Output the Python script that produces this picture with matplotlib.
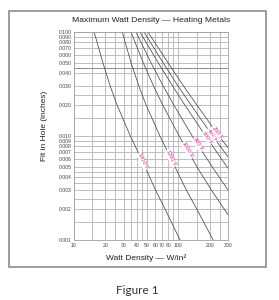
import numpy as np
import matplotlib
matplotlib.use('Agg')
import matplotlib.pyplot as plt
from matplotlib.patches import Rectangle

plt.rcParams['font.family'] = ['Liberation Sans', 'DejaVu Sans']

# === Dados (W/in^2 x ajuste no furo em polegadas) ===
fit_1400 = [0.1, 0.05, 0.03, 0.02, 0.01, 0.005, 0.003, 0.002, 0.001]
w_1400 = [15.6, 19.0, 22.3, 25.8, 34.7, 48.3, 60.7, 74.5, 104]

fit_1200 = [0.1, 0.05, 0.03, 0.02, 0.01, 0.005, 0.003, 0.002, 0.001]
w_1200 = [29.0, 35.4, 42.0, 49.0, 66.7, 93.5, 120, 150, 216]

fit_1000 = [0.1, 0.05, 0.03, 0.02, 0.01, 0.005, 0.003, 0.00175]
w_1000 = [35.2, 46.4, 58.2, 70.7, 102, 152, 209, 300]

fit_800 = [0.1, 0.05, 0.03, 0.02, 0.01, 0.005, 0.00303]
w_800 = [39.3, 55.1, 72.0, 90.3, 136, 213, 300]

fit_600 = [0.1, 0.05, 0.03, 0.02, 0.01, 0.0049]
w_600 = [42.9, 64.7, 88.7, 115, 183, 300]

fit_400 = [0.1, 0.05, 0.03, 0.02, 0.01, 0.0063]
w_400 = [46.9, 72.1, 100, 132, 214, 300]

fit_200 = [0.1, 0.05, 0.03, 0.02, 0.01, 0.0077]
w_200 = [51.2, 80.4, 113, 150, 246, 300]

curvas = [(w_1400, fit_1400), (w_1200, fit_1200), (w_1000, fit_1000),
          (w_800, fit_800), (w_600, fit_600), (w_400, fit_400), (w_200, fit_200)]
rotulos = ['1400°F', '1200°F', '1000°F', '800°F', '600°F', '400°F', '200°F']
fit_rotulo = [0.0057, 0.0061, 0.0073, 0.0082, 0.0096, 0.0102, 0.0107]

x_ticks = [10, 20, 30, 40, 50, 60, 70, 80, 100, 200, 300]
x_grid_extra = [15, 25, 35, 45, 90, 150, 250]
y_ticks = [0.001, 0.002, 0.003, 0.004, 0.005, 0.006, 0.007, 0.008, 0.009, 0.010,
           0.020, 0.030, 0.040, 0.050, 0.060, 0.070, 0.080, 0.090, 0.100]
y_grid_extra = [0.0015, 0.0025, 0.0035, 0.0045, 0.015, 0.025]

# === Figura ===
fig = plt.figure(figsize=(2.79, 3.0), dpi=100)
ax = fig.add_axes([74/279, 60/300, 154/279, 208/300])
ax.set_xscale('log')
ax.set_yscale('log')
ax.set_xlim(10, 300)
ax.set_ylim(0.001, 0.1)

grid_cor = '#b3b3b3'
for x in x_ticks + x_grid_extra:
    ax.axvline(x, color=grid_cor, lw=0.6, zorder=1)
for y in y_ticks + y_grid_extra:
    ax.axhline(y, color=grid_cor, lw=0.6, zorder=1)
ax.axhline(0.045, color='#8a8a8a', lw=0.7, zorder=1)

for (w, f) in curvas:
    ax.plot(w, f, color='#4a4a4a', lw=0.55, zorder=2)

# rotulos ao longo das curvas
fig.canvas.draw()
for (w, f), txt, fr in zip(curvas, rotulos, fit_rotulo):
    lw_ = np.log10(w)[::-1]
    lf_ = np.log10(f)[::-1]
    xr = 10 ** np.interp(np.log10(fr), lf_, lw_)
    xa = 10 ** np.interp(np.log10(fr) - 0.05, lf_, lw_)
    xb = 10 ** np.interp(np.log10(fr) + 0.05, lf_, lw_)
    p1 = ax.transData.transform((xb, fr * 10 ** 0.05))
    p2 = ax.transData.transform((xa, fr * 10 ** -0.05))
    ang = np.degrees(np.arctan2(p2[1] - p1[1], p2[0] - p1[0]))
    ax.text(xr, fr, txt, color='#e8249a', fontsize=4.0, rotation=ang,
            rotation_mode='anchor', ha='center', va='center', zorder=3,
            bbox=dict(facecolor='white', edgecolor='none', pad=0.2))

ax.set_xticks(x_ticks)
ax.set_xticklabels([str(v) for v in x_ticks])
ax.set_xticks([], minor=True)
ax.set_yticks(y_ticks)
ax.set_yticklabels(['%.3f' % v for v in y_ticks])
ax.set_yticks([], minor=True)
ax.tick_params(axis='both', length=0, labelsize=3.7, colors='#444444')
ax.tick_params(axis='y', pad=2)
ax.tick_params(axis='x', pad=2.5)
for s in ax.spines.values():
    s.set_color('#a0a0a0')
    s.set_linewidth(0.6)

fig.text(151/279, 1 - 21/300, 'Maximum Watt Density — Heating Metals',
         ha='center', va='center', fontsize=6.1, color='#222222')
fig.text(146/279, 1 - 258/300, 'Watt Density — W/in²',
         ha='center', va='center', fontsize=6.0, color='#222222')
fig.text(44/279, 1 - 126/300, 'Fit in Hole (inches)', rotation=90,
         ha='center', va='center', fontsize=6.0, color='#222222')

fig.patches.append(Rectangle((9/279, 33/300), 257/279, 256/300,
                             transform=fig.transFigure, fill=False,
                             edgecolor='#8c8c8c', lw=1.2))
fig.text(137/279, 1 - 291/300, 'Figure 1', ha='center', va='center',
         fontsize=8.5, color='#333333', family=['Lato', 'DejaVu Sans'])

fig.savefig('out.png', dpi=100)
